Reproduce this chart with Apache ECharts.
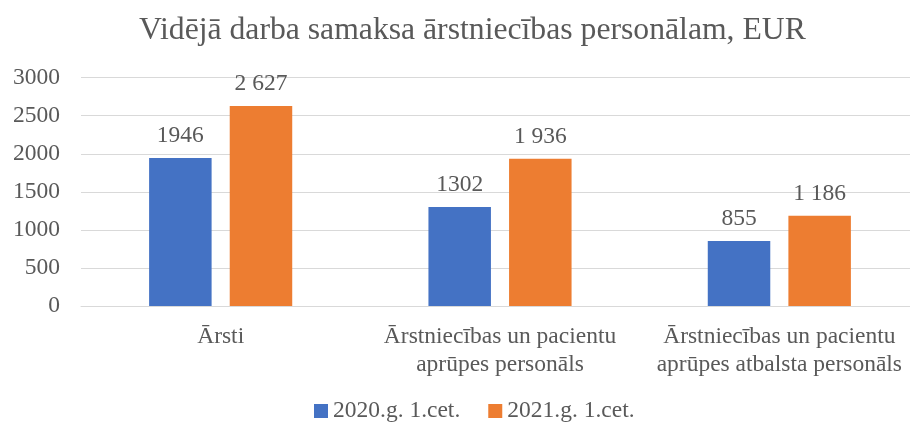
<!DOCTYPE html>
<html><head><meta charset="utf-8">
<script src="https://cdn.jsdelivr.net/npm/echarts@6/dist/echarts.min.js"></script>
<style>html,body{margin:0;padding:0;background:#fff}#c{width:910px;height:426px}</style>
</head><body><div id="c"></div>
<script>
const title = 'Vidējā darba samaksa ārstniecības personālam, EUR';
const categories = ['Ārsti', 'Ārstniecības un pacientu\naprūpes personāls', 'Ārstniecības un pacientu\naprūpes atbalsta personāls'];
const seriesNames = ['2020.g. 1.cet.', '2021.g. 1.cet.'];
const values2020 = [1946, 1302, 855];
const values2021 = [2627, 1936, 1186];
const yMin = 0, yMax = 3000, yStep = 500;

const font = '"Liberation Serif", "Times New Roman", serif';
const txt = '#595959';
function spaced(v){ return String(v).replace(/\B(?=(\d{3})+(?!\d))/g, ' '); }

const chart = echarts.init(document.getElementById('c'), null, {renderer:'canvas'});
chart.setOption({
  animation: false,
  textStyle: {fontFamily: font},
  title: {text: title, left: 134, top: 10,
    textStyle: {fontFamily: font, fontSize: 31.7, fontWeight: 'normal', color: txt}},
  legend: {bottom: -2, left: 309, itemWidth: 14, itemHeight: 14, itemGap: 28,
    icon: 'rect', textStyle: {fontFamily: font, fontSize: 23.5, color: txt}},
  grid: {left: 81, top: 77.7, bottom: 120, width: 838, containLabel: false, outerBoundsMode: 'none'},
  xAxis: {type: 'category', data: categories,
    axisLine: {lineStyle: {color: '#d9d9d9', width: 1}},
    axisTick: {show: false},
    axisLabel: {fontFamily: font, fontSize: 23.5, color: txt, margin: 17, lineHeight: 28, interval: 0}},
  yAxis: {type: 'value', min: yMin, max: yMax, interval: yStep,
    axisLine: {show: false}, axisTick: {show: false},
    splitLine: {lineStyle: {color: '#d9d9d9', width: 1}},
    axisLabel: {fontFamily: font, fontSize: 23.5, color: txt, margin: 21, formatter: v => String(v)}},
  series: [
    {name: seriesNames[0], type: 'bar', data: values2020, barWidth: 62.5, barGap: '29%',
      itemStyle: {color: '#4472c4'},
      label: {show: true, position: 'top', distance: 10, fontFamily: font, fontSize: 23.5, color: txt}},
    {name: seriesNames[1], type: 'bar', data: values2021, barWidth: 62.5, barGap: '29%',
      itemStyle: {color: '#ed7d31'},
      label: {show: true, position: 'top', distance: 10, fontFamily: font, fontSize: 23.5, color: txt,
        formatter: p => spaced(p.value)}}
  ]
});
</script></body></html>
